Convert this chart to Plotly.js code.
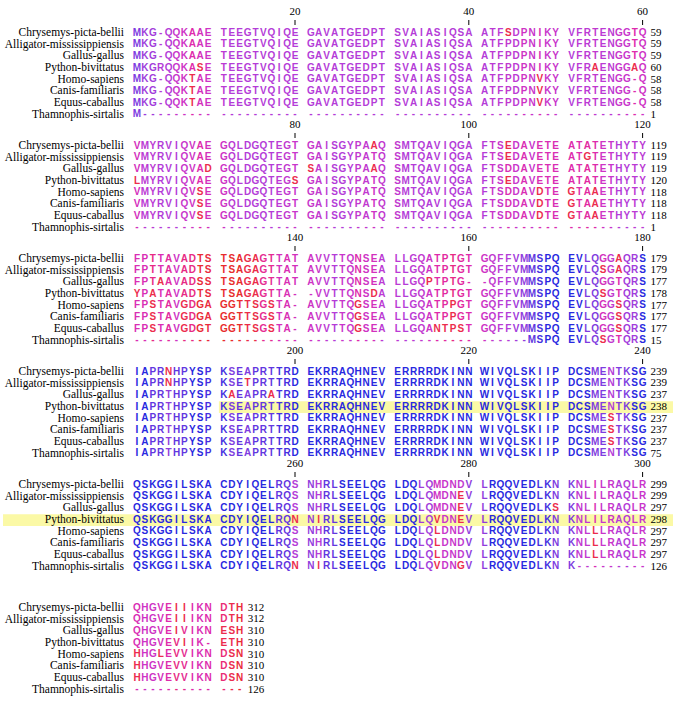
<!DOCTYPE html>
<html><head><meta charset="utf-8">
<script src="https://cdn.plot.ly/plotly-3.0.1.min.js"></script>
<style>html,body{margin:0;padding:0;background:#fff}#chart{width:680px;height:701px}</style>
</head><body><div id="chart"></div>
<script>
// ---------- DATA ----------
const species = ["Chrysemys-picta-bellii","Alligator-mississippiensis","Gallus-gallus","Python-bivittatus",
                 "Homo-sapiens","Canis-familiaris","Equus-caballus","Thamnophis-sirtalis"];
const seqChrysemys = "MKG-QQKAAE TEEGTVQIQE GAVATGEDPT SVAIASIQSA ATFSDPNIKY VFRTENGGTQ " +
  "VMYRVIQVAE GQLDGQTEGT GAISGYPAAQ SMTQAVIQGA FTSEDAVETE ATATETHYTY " +
  "FPTTAVADTS TSAGAGTTAT AVVTTQNSEA LLGQATPTGT GQFFVMMSPQ EVLQGGAQRS " +
  "IAPRNHPYSP KSEAPRTTRD EKRRAQHNEV ERRRRDKINN WIVQLSKIIP DCSMENTKSG " +
  "QSKGGILSKA CDYIQELRQS NHRLSEELQG LDQLQMDNDV LRQQVEDLKN KNLILRAQLR " +
  "QHGVEIIIKN DTH";
const seqAlligator = "MKG-QQKAAE TEEGTVQIQE GAVATGEDPT SVAIASIQSA ATFPDPNIKY VFRTENGGTQ " +
  "VMYRVIQVAE GQLDGQTEGT GAISGYPATQ SMTQAVIQGA FTSEDAVETE ATGTETHYTY " +
  "FPTTAVADTS TSAGAGTTAT AVVTTQNSEA LLGQATPTGT GQFFVMMSPQ EVLQSGAQRS " +
  "IAPRNHPYSP KSETPRTTRD EKRRAQHNEV ERRRRDKINN WIVQLSKIIP DCSMENTKSG " +
  "QSKGGILSKA CDYIQELRQS NHRLSEELQG LDQLQMDNEV LRQQVEDLKN KNLILRAQLR " +
  "QHGVEIIIKN DTH";
const seqGallus = "MKG-QQKAAE TEEGTVQIQE GAVATGEDPT SVAIASIQSA ATFPDPNIKY VFRTENGGTQ " +
  "VMYRVIQVAD GQLDGQTEGT SAISGYPAAQ SMTQAVIQGA FTSDDAVETE ATATETHYTY " +
  "FPTAAVADSS TSAGAGTTAT AVVTTQNSEA LLGQPTPTG- -QFFVMMSPQ EVLQGGTQRS " +
  "IAPRTHPYSP KAEAPRATRD EKRRAQHNEV ERRRRDKINN WIVQLSKIIP DCSMENTKSG " +
  "QSKGGILSKA CDYIQELRQS NHRLSEELQG LDQLQMDNEV LRQQVEDLKS KNLILRAQLR " +
  "QHGVEIVIKN ESH";
const seqPython = "MKGRQQKASE TEEGTVQIQE GAVATGEDPT SVAIASIQSA ATFPDPNIKY VFRAENGGAQ " +
  "LMYRVIQVAE GQLDGQTEGS GAISGYPATQ SMTQAVIQGA FTSEDAVETE ATATETHYTY " +
  "YPATAVADTS TSAGAGTTA- -VVTTQNSDA LLGQATPTGT GQFFVMMSPQ EVLQSGTQRS " +
  "IAPRTHPYSP KSEAPRTTRD EKRRAQHNEV ERRRRDKINN WIVQLSKIIP DCSMENTKSG " +
  "QSKGGILSKA CDYIQELRQN NIRLSEELQG LDQLQVDNEV LRQQVEDLKN KNLILRAQLR " +
  "QHGVEVIIK- ETH";
const seqHomo = "MKG-QQKTAE TEEGTVQIQE GAVATGEDPT SVAIASIQSA ATFPDPNVKY VFRTENGG-Q " +
  "VMYRVIQVSE GQLDGQTEGT GAISGYPATQ SMTQAVIQGA FTSDDAVDTE GTAAETHYTY " +
  "FPSTAVGDGA GGTTSGSTA- AVVTTQGSEA LLGQATPPGT GQFFVMMSPQ EVLQGGSQRS " +
  "IAPRTHPYSP KSEAPRTTRD EKRRAQHNEV ERRRRDKINN WIVQLSKIIP DCSMESTKSG " +
  "QSKGGILSKA CDYIQELRQS NHRLSEELQG LDQLQLDNDV LRQQVEDLKN KNLLLRAQLR " +
  "HHGLEVVIKN DSN";
const seqCanis = "MKG-QQKTAE TEEGTVQIQE GAVATGEDPT SVAIASIQSA ATFPDPNVKY VFRTENGG-Q " +
  "VMYRVIQVSE GQLDGQTEGT GAISGYPATQ SMTQAVIQGA FTSDDAVDTE GTAAETHYTY " +
  "FPSTAVGDGA GGTTSGSTA- AVVTTQGSEA LLGQATPPGT GQFFVMMSPQ EVLQGGSQRS " +
  "IAPRTHPYSP KSEAPRTTRD EKRRAQHNEV ERRRRDKINN WIVQLSKIIP DCSMESTKSG " +
  "QSKGGILSKA CDYIQELRQS NHRLSEELQG LDQLQLDNDV LRQQVEDLKN KNLLLRAQLR " +
  "HHGVEVVIKN DSN";
const seqEquus = "MKG-QQKTAE TEEGTVQIQE GAVATGEDPT SVAIASIQSA ATFPDPNVKY VFRTENGG-Q " +
  "VMYRVIQVSE GQLDGQTEGT GAISGYPATQ SMTQAVIQGA FTSDDAVDTE GTAAETHYTY " +
  "FPSTAVGDGT GGTTSGSTA- AVVTTQGSEA LLGQANTPST GQFFVMMSPQ EVLQGGSQRS " +
  "IAPRTHPYSP KSEAPRTTRD EKRRAQHNEV ERRRRDKINN WIVQLSKIIP DCSMESTKSG " +
  "QSKGGILSKA CDYIQELRQS NHRLSEELQG LDQLQLDNDV LRQQVEDLKN KNLLLRAQLR " +
  "HHGVEVVIKN DSN";
const seqThamnophis = "M--------- ---------- ---------- ---------- ---------- ---------- " +
  "---------- ---------- ---------- ---------- ---------- ---------- " +
  "---------- ---------- ---------- ---------- ------MSPQ EVLQSGTQRS " +
  "IAPRTHPYSP KSEAPRTTRD EKRRAQHNEV ERRRRDKINN WIVQLSKIIP DCSMENTKSG " +
  "QSKGGILSKA CDYIQELRQN NIRLSEELQG LDQLQVDNGV LRQQVEDLKN K--------- " +
  "---------- ---";
const sequences = [seqChrysemys, seqAlligator, seqGallus, seqPython, seqHomo, seqCanis, seqEquus, seqThamnophis];
const rulerPositions = [20,40,60,80,100,120,140,160,180,200,220,240,260,280,300];
const highlightRow = 3;

// ---------- LAYOUT CONSTANTS ----------
const W = 680, H = 701;
const X0 = 137, CELL = 7.9;
const Y0 = 33, BLOCK = 113, ROW = 11.7, LAST_EXTRA = 10;
const PER = 60;

const seqs = sequences.map(s => s.replace(/ /g, ""));
const N = seqs.length, L = seqs[0].length;

// conservation per column
const colScore = [], colMode = [];
for (let c = 0; c < L; c++) {
  const cnt = {};
  seqs.forEach(s => { const ch = s[c] || "-"; cnt[ch] = (cnt[ch] || 0) + 1; });
  let bm = 0, bestRes = null, br = 0;
  for (const k in cnt) { if (cnt[k] > bm) bm = cnt[k]; if (k !== "-" && cnt[k] > br) { br = cnt[k]; bestRes = k; } }
  colScore.push(bm / N); colMode.push(bestRes);
}
const smooth = colScore.map((v, c) => {
  let s = 0, n = 0;
  for (let d = -2; d <= 2; d++) { const k = c + d; const w = d === 0 ? 2 : 1;
    if (k >= 0 && k < L) { s += colScore[k] * w; n += w; } }
  return s / n;
});
const stops = [[0.5,[232,44,44]],[0.62,[238,44,100]],[0.72,[224,42,168]],[0.8,[204,52,200]],
               [0.875,[180,60,216]],[0.94,[124,60,224]],[1.0,[40,40,224]]];
function colorOf(v) {
  if (v <= stops[0][0]) return "rgb(" + stops[0][1].join(",") + ")";
  for (let i = 1; i < stops.length; i++) {
    if (v <= stops[i][0]) {
      const t = (v - stops[i-1][0]) / (stops[i][0] - stops[i-1][0]);
      const a = stops[i-1][1], b = stops[i][1];
      return "rgb(" + a.map((x, j) => Math.round(x + (b[j] - x) * t)).join(",") + ")";
    }
  }
  return "rgb(" + stops[stops.length-1][1].join(",") + ")";
}

const nBlocks = Math.ceil(L / PER);
function rowY(b, r) { return Y0 + b * BLOCK + (b === nBlocks - 1 ? LAST_EXTRA : 0) + r * ROW; }
function cellX(i) { return X0 + (i + Math.floor(i / 10)) * CELL; }

const rx = [], ry = [], rt = [], rc = [];
const lx = [], ly = [], lt = [];
const ex = [], ey = [], et = [];
const shapes = [];
for (let b = 0; b < nBlocks; b++) {
  const start = b * PER, end = Math.min(L, start + PER);
  for (let r = 0; r < N; r++) {
    const y = rowY(b, r);
    lx.push(X0 - 13); ly.push(y); lt.push(species[r]);
    for (let c = start; c < end; c++) {
      const ch = seqs[r][c];
      let v = smooth[c];
      if (ch !== "-" && ch !== colMode[c]) v = Math.min(v, 0.57);
      rx.push(cellX(c - start)); ry.push(y); rt.push(ch); rc.push(colorOf(v));
    }
    let count = 0;
    for (let c = 0; c < end; c++) if (seqs[r][c] !== "-") count++;
    ex.push(cellX(end - 1 - start) + 8); ey.push(y); et.push(String(count));
  }
}
// ruler
const tx = [], ty = [], tt = [], tkx = [], tky = [];
rulerPositions.forEach(p => {
  const b = Math.floor((p - 1) / PER), i = (p - 1) % PER;
  const x = cellX(i), y0 = rowY(b, 0);
  tx.push(x); ty.push(y0 - 21); tt.push(String(p));
  tkx.push(x, x, null); tky.push(y0 - 13, y0 - 8, null);
});
// highlights (Python row: block 4 from position 191, block 5 full row)
shapes.push({type:"rect", xref:"x", yref:"y", layer:"below", line:{width:0}, fillcolor:"#fbf9a6",
  x0: cellX(10) - 5, x1: 673, y0: rowY(3, highlightRow) - ROW/2, y1: rowY(3, highlightRow) + ROW/2});
shapes.push({type:"rect", xref:"x", yref:"y", layer:"below", line:{width:0}, fillcolor:"#fbf9a6",
  x0: 3, x1: 673, y0: rowY(4, highlightRow) - ROW/2, y1: rowY(4, highlightRow) + ROW/2});

const serif = "Liberation Serif, Times New Roman, serif";
const traces = [
  {type:"scatter", mode:"text", x:rx, y:ry, text:rt, textposition:"middle center", hoverinfo:"skip",
   textfont:{family:"Liberation Sans, Arial, sans-serif", size:10, weight:"bold", color:rc}},
  {type:"scatter", mode:"text", x:lx, y:ly, text:lt, textposition:"middle left", hoverinfo:"skip",
   textfont:{family:serif, size:11.5, color:"#000"}},
  {type:"scatter", mode:"text", x:ex, y:ey, text:et, textposition:"middle right", hoverinfo:"skip",
   textfont:{family:serif, size:11, color:"#000"}},
  {type:"scatter", mode:"text", x:tx, y:ty, text:tt, textposition:"middle center", hoverinfo:"skip",
   textfont:{family:serif, size:11, color:"#000"}},
  {type:"scatter", mode:"lines", x:tkx, y:tky, line:{color:"#000", width:1}, hoverinfo:"skip"}
];
const layout = {
  width:W, height:H, margin:{l:0,r:0,t:0,b:0}, showlegend:false,
  paper_bgcolor:"#fff", plot_bgcolor:"#fff",
  xaxis:{range:[0,W], visible:false, fixedrange:true},
  yaxis:{range:[H,0], visible:false, fixedrange:true},
  shapes:shapes
};
Plotly.newPlot("chart", traces, layout, {staticPlot:true, displayModeBar:false});
</script></body></html>
